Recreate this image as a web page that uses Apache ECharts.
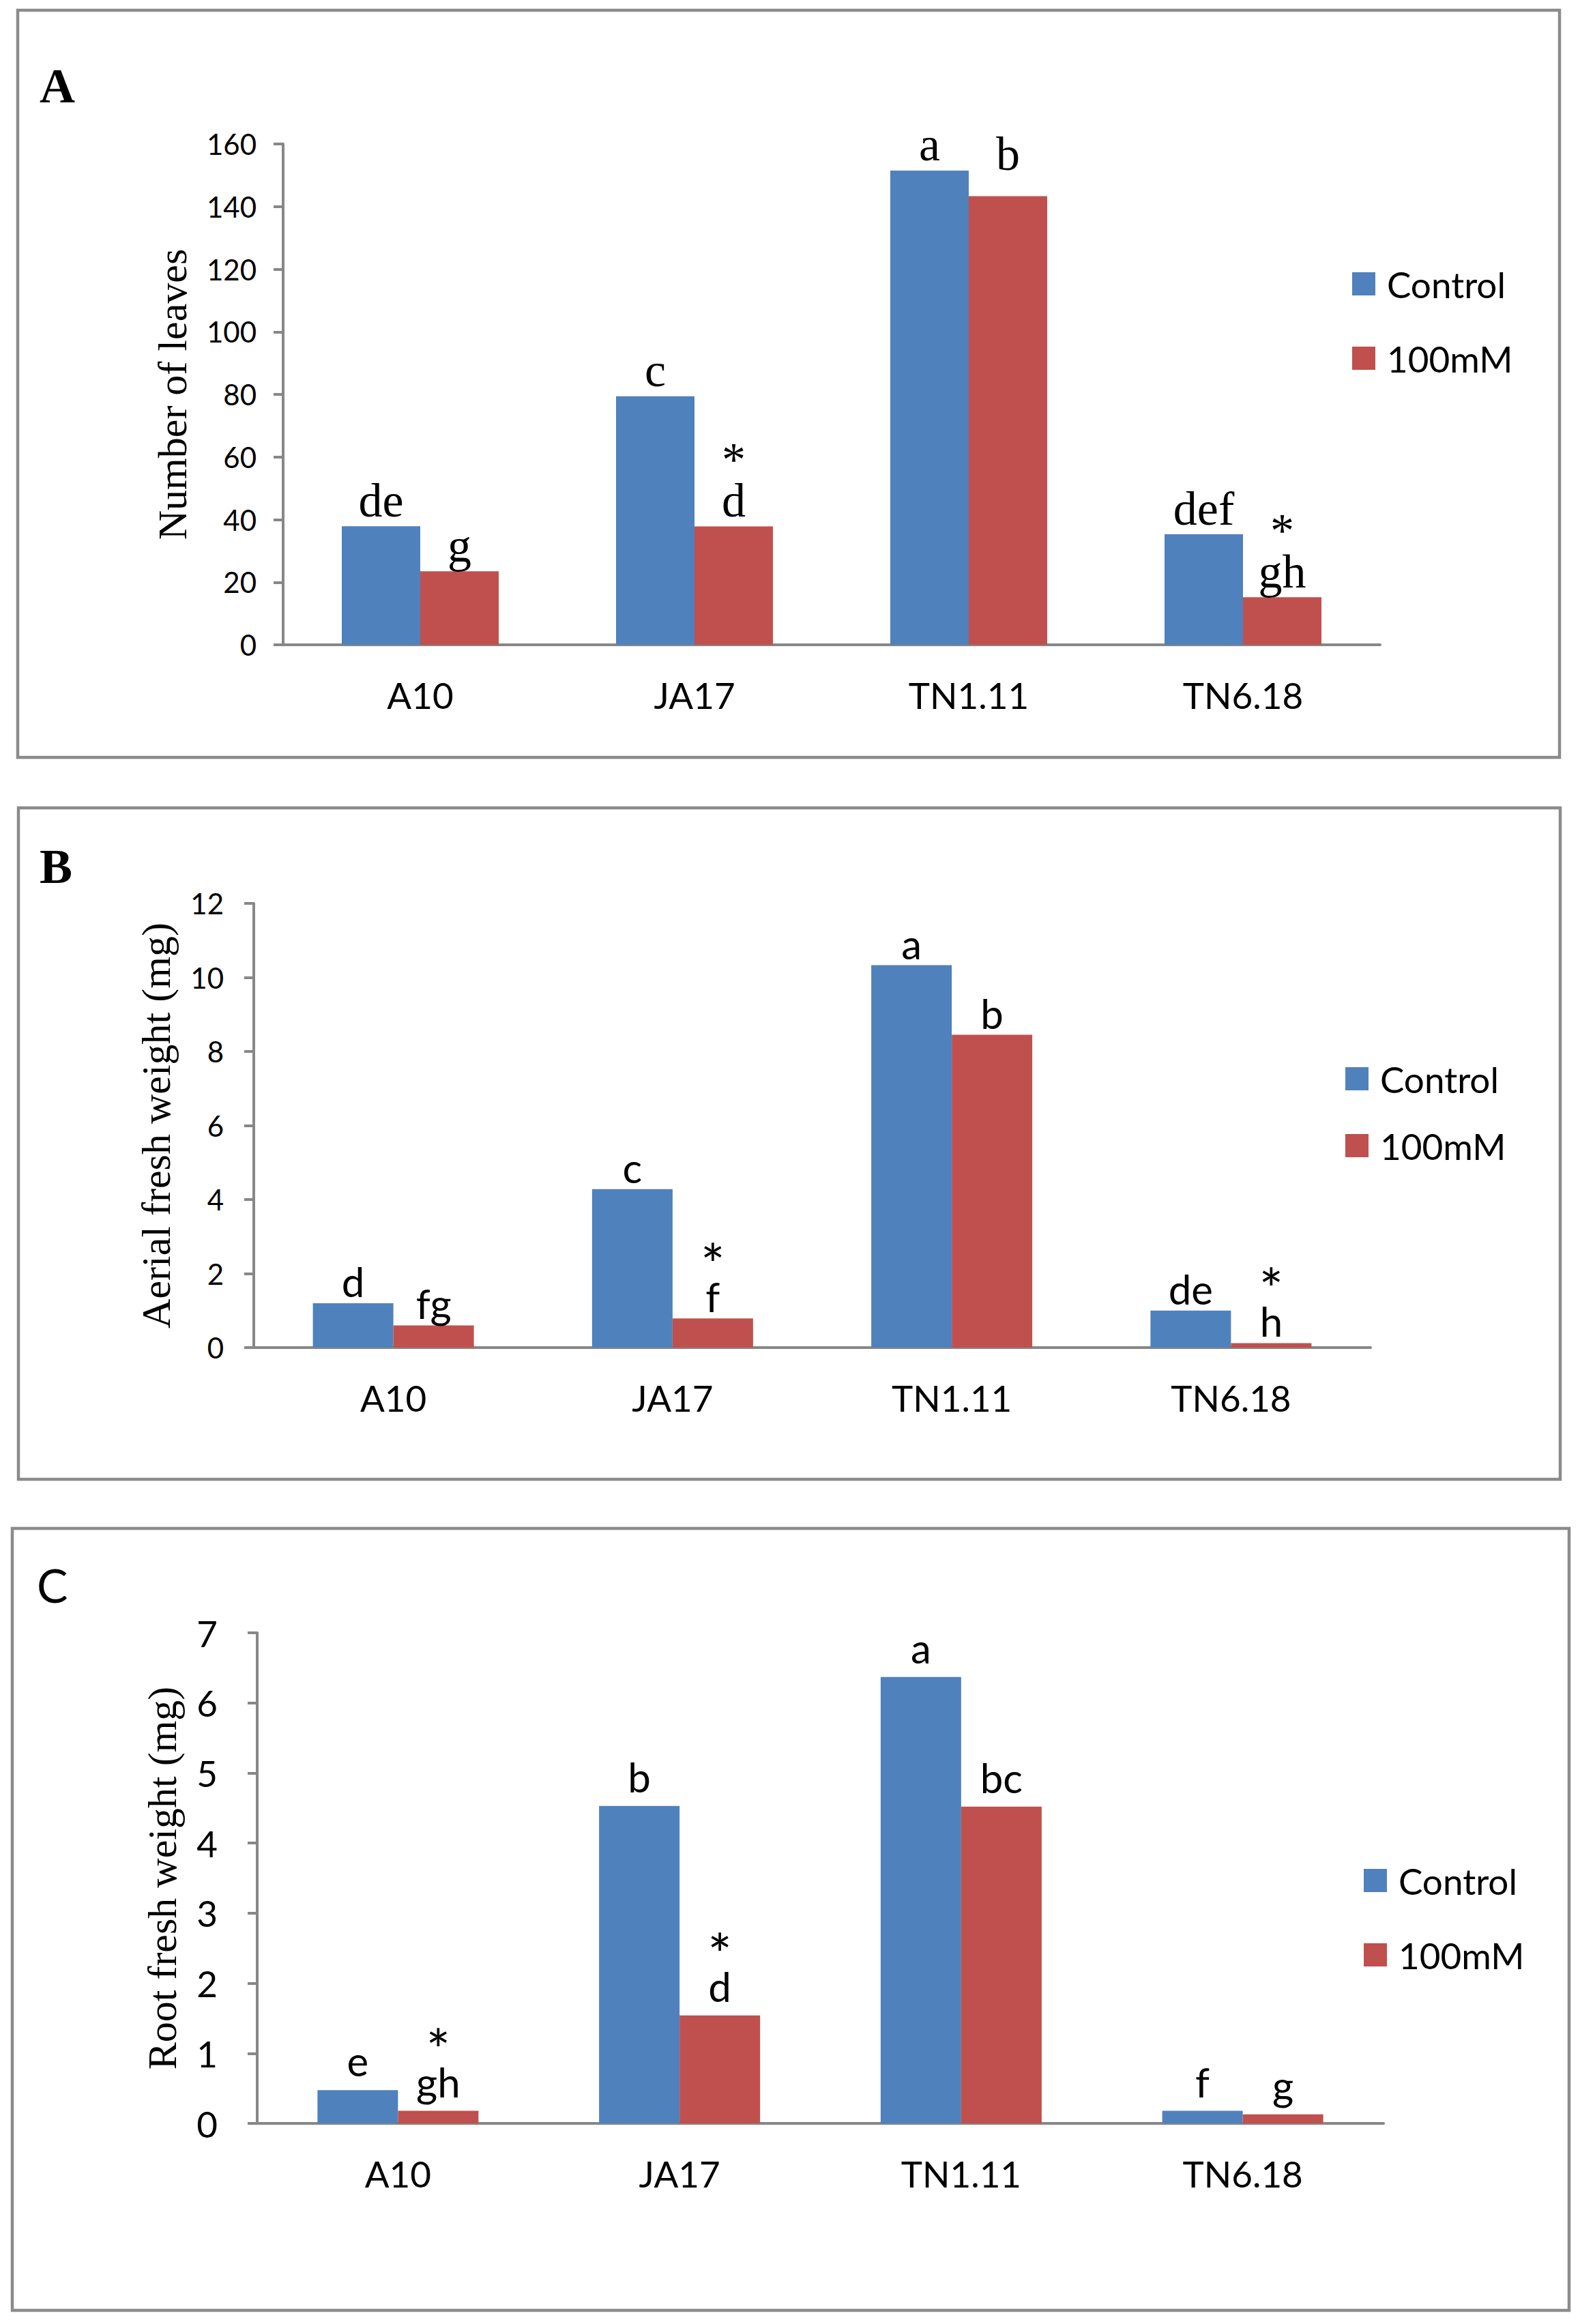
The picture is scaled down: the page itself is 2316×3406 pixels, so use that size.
<!DOCTYPE html>
<html>
<head>
<meta charset="utf-8">
<script src="https://cdn.jsdelivr.net/npm/echarts@6/dist/echarts.min.js"></script>
<style>
html,body{margin:0;padding:0;background:#fff;}
#chart{width:2316px;height:3406px;}
</style>
</head>
<body>
<div id="chart"></div>
<script>
// ---------- data ----------
const categories = ['A10', 'JA17', 'TN1.11', 'TN6.18'];
const seriesNames = ['Control', '100mM'];

// Panel A: Number of leaves
const leavesControl = [37.9, 79.4, 151.5, 35.3];
const leaves100mM = [23.5, 37.8, 143.3, 15.2];
const leavesLettersControl = ['de', 'c', 'a', 'def'];
const leavesLetters100mM = ['g', 'd', 'b', 'gh'];
const leavesStar100mM = [false, true, false, true];

// Panel B: Aerial fresh weight (mg)
const aerialControl = [1.2, 4.28, 10.33, 1.0];
const aerial100mM = [0.6, 0.79, 8.45, 0.12];
const aerialLettersControl = ['d', 'c', 'a', 'de'];
const aerialLetters100mM = ['fg', 'f', 'b', 'h'];
const aerialStar100mM = [false, true, false, true];

// Panel C: Root fresh weight (mg)
const rootControl = [0.475, 4.53, 6.37, 0.18];
const root100mM = [0.18, 1.54, 4.52, 0.128];
const rootLettersControl = ['e', 'b', 'a', 'f'];
const rootLetters100mM = ['gh', 'd', 'bc', 'g'];
const rootStar100mM = [true, true, false, false];

const noStars = [false, false, false, false];

// ---------- styles / layout ----------
const BLUE = '#4F81BD';
const RED = '#C0504D';
const AXIS = '#878787';
const FRAME = '#8B8B8B';
const SANS = 'Lato';
const SERIF = 'Liberation Serif';
// extra upward shift (px) of a few hand-placed letter labels in the original
const labelRaiseA100mM = [0, 0, 24, 0];
const noRaise = [0, 0, 0, 0];

const chart = echarts.init(document.getElementById('chart'), null, {renderer: 'svg'});

const panels = [
  {grid: {left: 415, right: 293, top: 211, height: 734}, max: 160, interval: 20,
   title: 'Number of leaves', nameGap: 132, tickFont: 42, tickMargin: 39,
   ctrl: leavesControl, salt: leaves100mM, lc: leavesLettersControl, ls: leavesLetters100mM,
   sc: noStars, ss: leavesStar100mM, rc: noRaise, rs: labelRaiseA100mM,
   barWidth: 115, letterFont: SERIF, letterSize: 70,
   starSize: 70, starLH: 50, dist: 3, legend: {left: 1982, top: 386, gap: 49}},
  {grid: {left: 372, right: 307, top: 1324, height: 651}, max: 12, interval: 2,
   title: 'Aerial fresh weight (mg)', nameGap: 113, tickFont: 42, tickMargin: 44,
   ctrl: aerialControl, salt: aerial100mM, lc: aerialLettersControl, ls: aerialLetters100mM,
   sc: noStars, ss: aerialStar100mM, rc: noRaise, rs: noRaise,
   barWidth: 118, letterFont: SANS, letterSize: 60,
   starSize: 84, starLH: 37, dist: 2, legend: {left: 1972, top: 1551, gap: 38}},
  {grid: {left: 377, right: 288, top: 2393, height: 719}, max: 7, interval: 1,
   title: 'Root fresh weight (mg)', nameGap: 109, tickFont: 53, tickMargin: 58,
   ctrl: rootControl, salt: root100mM, lc: rootLettersControl, ls: rootLetters100mM,
   sc: noStars, ss: rootStar100mM, rc: noRaise, rs: noRaise,
   barWidth: 118, letterFont: SANS, letterSize: 60,
   starSize: 84, starLH: 37, dist: 13, legend: {left: 1999, top: 2726, gap: 49}}
];

const grids = [], xAxes = [], yAxes = [], series = [], legends = [];

function makeLabel(p, letters, stars) {
  return {
    show: true,
    position: 'top',
    distance: p.dist,
    formatter: function (d) {
      const i = d.dataIndex;
      return (stars[i] ? '{s|*}\n' : '') + '{l|' + letters[i] + '}';
    },
    rich: {
      l: {fontFamily: p.letterFont, fontSize: p.letterSize, lineHeight: p.letterSize, color: '#000'},
      s: {fontFamily: p.letterFont, fontSize: p.starSize, lineHeight: p.starLH, color: '#000'}
    }
  };
}

function buildData(values, raise) {
  return values.map(function (v, i) {
    return raise[i] ? {value: v, label: {offset: [0, -raise[i]]}} : v;
  });
}

panels.forEach(function (p, k) {
  grids.push(Object.assign({containLabel: false}, p.grid));
  xAxes.push({
    type: 'category', gridIndex: k, data: categories,
    axisLine: {show: true, lineStyle: {color: AXIS, width: 4}},
    axisTick: {show: false},
    axisLabel: {color: '#000', fontFamily: SANS, fontSize: 53, margin: 47},
    splitLine: {show: false}
  });
  yAxes.push({
    type: 'value', gridIndex: k, min: 0, max: p.max, interval: p.interval,
    name: p.title, nameLocation: 'middle', nameRotate: 90, nameGap: p.nameGap,
    nameTextStyle: {fontFamily: SERIF, fontSize: 60, color: '#000'},
    axisLine: {show: true, lineStyle: {color: AXIS, width: 4}},
    axisTick: {show: true, length: 14, lineStyle: {color: AXIS, width: 4}},
    axisLabel: {color: '#000', fontFamily: SANS, fontSize: p.tickFont, margin: p.tickMargin},
    splitLine: {show: false}
  });
  series.push({
    name: seriesNames[0], type: 'bar', xAxisIndex: k, yAxisIndex: k,
    data: buildData(p.ctrl, p.rc), barWidth: p.barWidth, barGap: '0%',
    itemStyle: {color: BLUE}, label: makeLabel(p, p.lc, p.sc),
    animation: false
  });
  series.push({
    name: seriesNames[1], type: 'bar', xAxisIndex: k, yAxisIndex: k,
    data: buildData(p.salt, p.rs), barWidth: p.barWidth, barGap: '0%',
    itemStyle: {color: RED}, label: makeLabel(p, p.ls, p.ss),
    animation: false
  });
  legends.push({
    data: seriesNames, orient: 'vertical', left: p.legend.left, top: p.legend.top,
    padding: 0, itemGap: p.legend.gap, itemWidth: 34, itemHeight: 34, icon: 'rect',
    selectedMode: false,
    textStyle: {fontFamily: SANS, fontSize: 53, lineHeight: 60, color: '#000', padding: [0, 0, 0, 12]}
  });
});

const graphic = [
  {type: 'rect', shape: {x: 26, y: 15, width: 2260, height: 1095}, style: {fill: 'none', stroke: FRAME, lineWidth: 4.5}, silent: true},
  {type: 'rect', shape: {x: 27, y: 1184, width: 2260, height: 984}, style: {fill: 'none', stroke: FRAME, lineWidth: 4.5}, silent: true},
  {type: 'rect', shape: {x: 18, y: 2240, width: 2282, height: 1146}, style: {fill: 'none', stroke: FRAME, lineWidth: 4.5}, silent: true},
  {type: 'text', x: 58, y: 126, style: {text: 'A', fontFamily: SERIF, fontWeight: 'bold', fontSize: 72, fill: '#000', verticalAlign: 'middle', align: 'left'}},
  {type: 'text', x: 58, y: 1270, style: {text: 'B', fontFamily: SERIF, fontWeight: 'bold', fontSize: 72, fill: '#000', verticalAlign: 'middle', align: 'left'}},
  {type: 'text', x: 54, y: 2322, style: {text: 'C', fontFamily: SANS, fontSize: 68, fill: '#000', verticalAlign: 'middle', align: 'left'}}
];

chart.setOption({
  animation: false,
  backgroundColor: '#fff',
  grid: grids,
  xAxis: xAxes,
  yAxis: yAxes,
  legend: legends,
  series: series,
  graphic: graphic
});
</script>
</body>
</html>
